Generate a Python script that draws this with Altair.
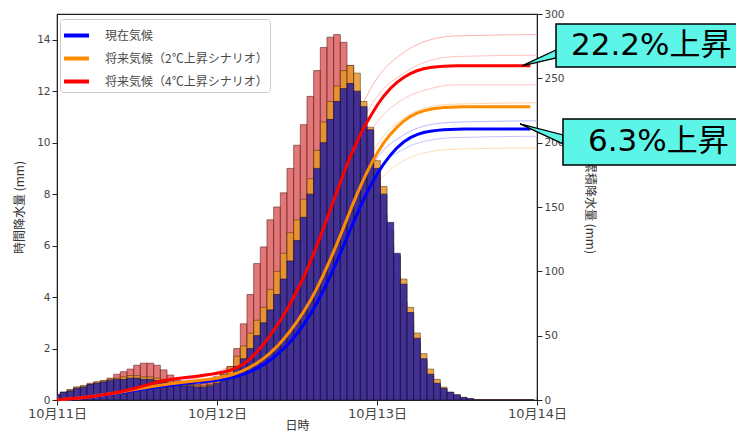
import altair as alt
import pandas as pd

# ---------------- data ----------------
HOURS = list(range(72))  # hours since 10/11 00:00

CURRENT = [0.2, 0.3, 0.35, 0.45, 0.5, 0.6, 0.65, 0.7, 0.75, 0.8, 0.8, 0.85,
           0.85, 0.8, 0.8, 0.75, 0.7, 0.65, 0.6, 0.55, 0.55, 0.5, 0.5, 0.55,
           0.65, 0.8, 1.0, 1.3, 1.6, 2.0, 2.5, 3.0, 3.5, 4.1, 4.7, 5.4,
           6.2, 7.1, 8.0, 9.0, 10.0, 10.9, 11.6, 12.1, 12.3, 12.0, 11.4, 10.5,
           9.0, 8.0, 6.9, 5.7, 4.5, 3.4, 2.4, 1.6, 1.0, 0.65, 0.45, 0.3,
           0.2, 0.1, 0.05, 0, 0, 0, 0, 0, 0, 0, 0, 0]
PLUS2 = [0.2, 0.3, 0.4, 0.5, 0.55, 0.6, 0.7, 0.75, 0.8, 0.85, 0.9, 0.95,
         0.95, 0.9, 0.9, 0.85, 0.8, 0.7, 0.65, 0.6, 0.6, 0.55, 0.55, 0.6,
         0.8, 1.0, 1.3, 1.7, 2.1, 2.6, 3.1, 3.6, 4.3, 5.0, 5.7, 6.5,
         7.0, 7.8, 8.6, 9.7, 10.8, 11.6, 12.2, 12.8, 13.0, 12.7, 11.6, 10.6,
         9.3, 8.3, 6.6, 5.6, 4.7, 3.6, 2.6, 1.8, 1.2, 0.8, 0.5, 0.3,
         0.2, 0.1, 0.05, 0, 0, 0, 0, 0, 0, 0, 0, 0]
PLUS4 = [0.2, 0.3, 0.4, 0.5, 0.55, 0.65, 0.7, 0.75, 0.85, 1.0, 1.1, 1.2,
         1.35, 1.43, 1.43, 1.35, 1.17, 0.97, 0.78, 0.65, 0.6, 0.6, 0.65, 0.75,
         0.9, 1.0, 1.3, 2.0, 2.96, 4.1, 5.3, 5.95, 7.0, 7.5, 8.05, 9.0,
         9.9, 10.7, 11.8, 12.8, 13.7, 14.1, 14.2, 13.9, 13.0, 11.8, 10.5, 9.0,
         8.5, 7.2, 6.0, 4.8, 3.8, 3.0, 2.2, 1.5, 1.0, 0.6, 0.4, 0.2,
         0.1, 0, 0, 0, 0, 0, 0, 0, 0, 0, 0, 0]

SCENARIOS = ["現在気候", "将来気候（2℃上昇シナリオ）", "将来気候（4℃上昇シナリオ）"]
LINE_COLORS = ["#0000ff", "#ff8c00", "#ff0000"]
BAR_FILLS = ["#35289c", "#e8962a", "#df5f5f"]
BAR_STROKES = ["#140c3c", "#5a3a08", "#5a1818"]

# faint ensemble members (cumulative, mm) at sparse hours
THIN_HOURS = [0, 12, 24, 30, 36, 40, 44, 48, 52, 56, 60, 72]
THIN_RED_A = [0, 10, 22, 40, 93, 147, 208, 250, 270, 280, 283, 284]
THIN_RED_B = [0, 10, 21, 39, 88, 139, 196, 236, 254, 264, 267, 268]
THIN_RED_C = [0, 9, 19, 34, 80, 127, 180, 216, 234, 242, 245, 245]
THIN_ORG_A = [0, 9, 16, 26, 63, 101, 153, 198, 219, 228, 230, 231]
THIN_ORG_B = [0, 7, 13, 21, 52, 85, 130, 168, 186, 193, 195, 196]
THIN_BLU_A = [0, 8, 15, 24, 58, 96, 146, 188, 206, 214, 216, 217]
THIN_BLU_B = [0, 8, 14, 23, 55, 90, 138, 178, 195, 202, 204, 205]

X_TICKS = [0, 24, 48, 72]
X_LABELS = ["10月11日", "10月12日", "10月13日", "10月14日"]
YL_TICKS = [0, 2, 4, 6, 8, 10, 12, 14]
YR_TICKS = [0, 50, 100, 150, 200, 250, 300]

CALLOUT_LABELS = ["22.2%上昇", "6.3%上昇"]

# ---------------- tables ----------------
bars = pd.DataFrame({
    "hour": HOURS * 3,
    "scenario": [SCENARIOS[0]] * 72 + [SCENARIOS[1]] * 72 + [SCENARIOS[2]] * 72,
    "rain": CURRENT + PLUS2 + PLUS4,
})
bars["t0"] = bars["hour"] - 0.5
bars["t1"] = bars["hour"] + 0.5

thin_rows = []
for name, col, vals in [("ra", "#ffa8a8", THIN_RED_A), ("rb", "#ffbcbc", THIN_RED_B),
                        ("rc", "#ffc0c0", THIN_RED_C), ("oa", "#ffd0a0", THIN_ORG_A),
                        ("ob", "#ffd8ae", THIN_ORG_B), ("ba", "#b0b0ff", THIN_BLU_A),
                        ("bb", "#c0c0ff", THIN_BLU_B)]:
    for h, v in zip(THIN_HOURS, vals):
        thin_rows.append({"member": name, "col": col, "h": h, "cum": v})
thin = pd.DataFrame(thin_rows)

final_red = sum(PLUS4)
final_blue = sum(CURRENT)
callouts = pd.DataFrame({
    "label": CALLOUT_LABELS,
    "bx0": [74.85, 75.9], "bx1": [104.0, 104.0],
    "by0": [258.8, 182.6], "by1": [292.2, 218.4],
    "tx": [77.1, 79.65], "ty": [275.5, 200.5],
})
wedges = pd.DataFrame({
    "id": ["a", "a", "b", "b"],
    "wx": [69.75, 74.85, 69.45, 75.9],
    "wy": [final_red, 272.0, final_blue + 4, 206.0],
    "wy2": [final_red, 265.8, final_blue + 4, 199.0],
})

# ---------------- encodings ----------------
FONT = "DejaVu Sans, Noto Sans CJK JP"
label_expr = "{" + ",".join(f"'{t}':'{l}'" for t, l in zip(X_TICKS, X_LABELS)) + "}[datum.value]"
x_axis = alt.Axis(values=X_TICKS, labelExpr=label_expr, title="日時", labelFontSize=13,
                  labelPadding=2, titlePadding=0, labelFlush=False)
x_scale = alt.Scale(domain=[0, 72], nice=False, zero=False, padding=0)


def X(field):
    return alt.X(field, type="quantitative", scale=x_scale, axis=x_axis)


yl_scale = alt.Scale(domain=[0, 15.0], nice=False, padding=0)
yl_axis = alt.Axis(values=YL_TICKS, title="時間降水量 (mm)", orient="left", titlePadding=10)
yr_scale = alt.Scale(domain=[0, 300], nice=False, padding=0)
yr_axis = alt.Axis(values=YR_TICKS, title="累積降水量 (mm)", orient="right", titlePadding=18)


def YR(field, axis=True):
    return alt.Y(field, type="quantitative", scale=yr_scale, axis=yr_axis if axis else None)


# ---------------- faint ensemble lines (behind the bars) ----------------
thin_layer = alt.Chart(thin).mark_line(strokeWidth=0.9, interpolate="monotone").encode(
    x=X("h"), y=YR("cum", axis=False), detail="member:N",
    color=alt.Color("col:N", scale=None),
)

# ---------------- bar layers (left axis) ----------------
bar_layers = []
for idx in [2, 1, 0]:
    bar_layers.append(
        alt.Chart(bars).transform_filter(alt.datum.scenario == SCENARIOS[idx])
        .mark_rect(clip=True, fill=BAR_FILLS[idx], stroke=BAR_STROKES[idx],
                   strokeWidth=0.7, opacity=0.85 if idx else 0.92)
        .encode(x=X("t0"), x2="t1",
                y=alt.Y("rain:Q", scale=yl_scale, axis=yl_axis, stack=None),
                y2=alt.datum(0))
    )
left = alt.layer(*bar_layers)

# ---------------- cumulative lines (right axis) ----------------
lines = alt.Chart(bars).transform_window(
    cum="sum(rain)", groupby=["scenario"], sort=[alt.SortField("hour")], frame=[None, 0]
).mark_line(strokeWidth=3).encode(
    x=X("hour"), y=YR("cum"),
    color=alt.Color("scenario:N", sort=SCENARIOS,
                    scale=alt.Scale(domain=SCENARIOS, range=LINE_COLORS),
                    legend=alt.Legend(title=None, orient="none", legendX=3, legendY=5,
                                      symbolType="stroke", symbolStrokeWidth=4, symbolSize=625,
                                      symbolOpacity=1, labelLimit=400,
                                      labelFont="Noto Sans CJK JP", labelFontSize=12,
                                      labelColor="#4a4a4a", labelOffset=14, rowPadding=-10.5,
                                      fillColor="white", strokeColor="#cccccc", padding=2,
                                      cornerRadius=3)),
    order=alt.Order("hour:Q"),
)

wedge_layer = alt.Chart(wedges).mark_area(fill="#5cf5e8", stroke="black", strokeWidth=1.3,
                                         opacity=1).encode(
    x=X("wx"), y=YR("wy"), y2="wy2", detail="id:N")

box_layer = alt.Chart(callouts).mark_rect(fill="#5cf5e8", stroke="black", strokeWidth=1.5).encode(
    x=X("bx0"), x2="bx1", y=YR("by0"), y2="by1")

text_layer = alt.Chart(callouts).mark_text(align="left", baseline="middle", font=FONT,
                                          fontSize=31, color="black").encode(
    x=X("tx"), y=YR("ty"), text="label:N")

right = alt.layer(lines, wedge_layer, box_layer, text_layer)

chart = alt.layer(thin_layer, left, right).resolve_scale(y="independent").properties(
    width=480, height=386,
    autosize=alt.AutoSizeParams(type="none"),
    padding={"left": 49, "top": 6, "right": 199, "bottom": 33},
).configure_view(stroke="#222222", strokeWidth=1.2).configure_axis(
    labelFont=FONT, labelColor="#444444", labelFontSize=10.5,
    titleFont="Noto Sans CJK JP", titleFontWeight="normal", titleFontSize=12, titleColor="#333333",
    grid=False, domainColor="#222222", tickColor="#222222", tickSize=5,
)

chart.save("out.html", embed_options={"renderer": "svg", "actions": False})
